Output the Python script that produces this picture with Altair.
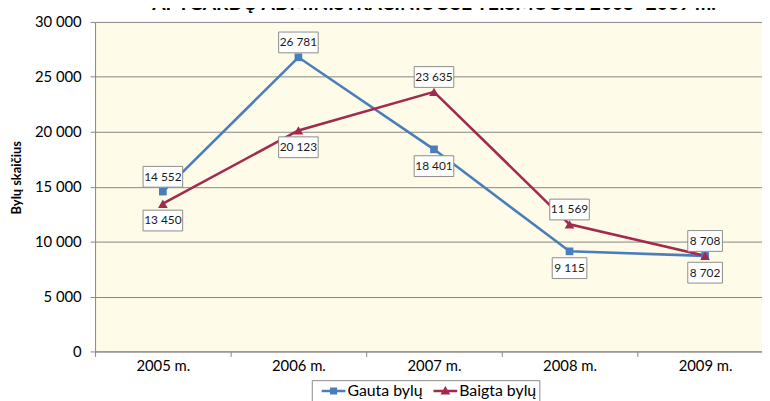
import altair as alt
import pandas as pd

years = ["2005 m.", "2006 m.", "2007 m.", "2008 m.", "2009 m."]
gauta = [14552, 26781, 18401, 9115, 8702]
baigta = [13450, 20123, 23635, 11569, 8708]
gauta_pos = ["above", "above", "below", "below", "below"]
baigta_pos = ["below", "below", "above", "above", "above"]
series_names = ["Gauta bylų", "Baigta bylų"]
colors = ["#4A7EBB", "#A12B4D"]
y_ticks = [0, 5000, 10000, 15000, 20000, 25000, 30000]
title_text = "APYGARDŲ ADMINISTRACINIUOSE TEISMUOSE 2005–2009 m."
y_title = "Bylų skaičius"

rows = []
for name, vals, pos in [(series_names[0], gauta, gauta_pos), (series_names[1], baigta, baigta_pos)]:
    for yr, v, p in zip(years, vals, pos):
        rows.append({"year": yr, "series": name, "v": v, "pos": p,
                     "label": f"{v:,}".replace(",", " ")})
df = pd.DataFrame(rows)

color_scale = alt.Scale(domain=series_names, range=colors)

x_enc = alt.X("year:N", sort=years,
              scale=alt.Scale(type="band", domain=years, range=[0, 685], paddingInner=0, paddingOuter=0),
              axis=alt.Axis(title=None, labelAngle=0, tickBand="extent", tickSize=5, labelPadding=2,
                            labelFontSize=15, labelColor="#000000", domainColor="#868686",
                            tickColor="#868686", grid=False))
y_enc = alt.Y("v:Q", scale=alt.Scale(domain=[0, 30000], nice=False),
              axis=alt.Axis(title=y_title, values=y_ticks,
                            labelExpr="replace(format(datum.value, ','), ',', ' ')",
                            tickSize=5, labelPadding=9, labelFontSize=15, labelColor="#000000",
                            domainColor="#868686", tickColor="#868686", grid=True,
                            gridColor="#868686", gridWidth=1,
                            titleFontSize=13, titleFontWeight="bold", titleColor="#000000",
                            titleX=-72, titleY=157, titleBaseline="bottom", titleAngle=270))

base = alt.Chart(df).encode(x=x_enc, y=y_enc)
col = alt.Color("series:N", scale=color_scale, legend=None)

lines = base.mark_line(strokeWidth=2.6).encode(color=col, detail="series:N")
squares = base.transform_filter(alt.datum.series == series_names[0]).mark_square(
    size=60, filled=True, opacity=1).encode(color=col)
triangles = base.transform_filter(alt.datum.series == series_names[1]).mark_point(
    shape="triangle-up", size=95, filled=True, opacity=1).encode(color=col)

box_big = "M-1,-0.525L1,-0.525L1,0.525L-1,0.525Z"
box_small = "M-0.875,-0.525L0.875,-0.525L0.875,0.525L-0.875,0.525Z"
box_shape = alt.condition("datum.v < 10000", alt.value(box_small), alt.value(box_big))

boxes_above = base.transform_filter(alt.datum.pos == "above").mark_point(
    yOffset=-15, size=1600, filled=True, fill="white", stroke="#8C8C8C", strokeWidth=1, opacity=1
).encode(shape=box_shape)
boxes_below = base.transform_filter(alt.datum.pos == "below").mark_point(
    yOffset=17, size=1600, filled=True, fill="white", stroke="#8C8C8C", strokeWidth=1, opacity=1
).encode(shape=box_shape)
text_above = base.transform_filter(alt.datum.pos == "above").mark_text(
    dy=-15, fontSize=12, color="#1A1A1A", font="Lato").encode(text="label:N")
text_below = base.transform_filter(alt.datum.pos == "below").mark_text(
    dy=17, fontSize=12, color="#1A1A1A", font="Lato").encode(text="label:N")

leg = alt.Legend(orient="none", legendX=219, legendY=362, direction="horizontal", title=None,
                 fillColor="white", strokeColor="#8C8C8C", padding=3, symbolSize=256,
                 symbolOffset=11, symbolOpacity=1, symbolStrokeWidth=0, labelFontSize=16,
                 labelFont="Lato", labelColor="#000000", columnPadding=4, labelOffset=6)
path_g = "M-1.5,-0.15L1.5,-0.15L1.5,0.15L-1.5,0.15Z M-0.45,-0.45L0.45,-0.45L0.45,0.45L-0.45,0.45Z"
path_b = "M-1.5,-0.15L1.5,-0.15L1.5,0.15L-1.5,0.15Z M0,-0.62L0.62,0.45L-0.62,0.45Z"
phantom = base.mark_point(filled=True, opacity=0).encode(
    color=alt.Color("series:N", scale=color_scale, legend=leg),
    shape=alt.Shape("series:N", scale=alt.Scale(domain=series_names, range=[path_g, path_b]), legend=leg),
)

title_layer = alt.Chart(pd.DataFrame({"t": [title_text]})).mark_text(
    font="Lato", fontWeight="bold", fontSize=19.5, align="center", baseline="alphabetic", color="#000000"
).encode(x=alt.value(342.5), y=alt.value(-12), text="t:N")

chart = alt.layer(lines, squares, triangles, boxes_above, boxes_below, text_above, text_below,
                  phantom, title_layer).resolve_legend(
    color="independent", shape="independent"
).properties(
    width=674, height=333,
    padding={"left": 88, "top": 12, "right": 0, "bottom": 48},
    autosize=alt.AutoSizeParams(type="none"),
).configure(font="Lato", background="white").configure_view(fill="#FEFBE8", stroke="transparent")

chart.save("out.html", embed_options={"renderer": "svg", "actions": False})
